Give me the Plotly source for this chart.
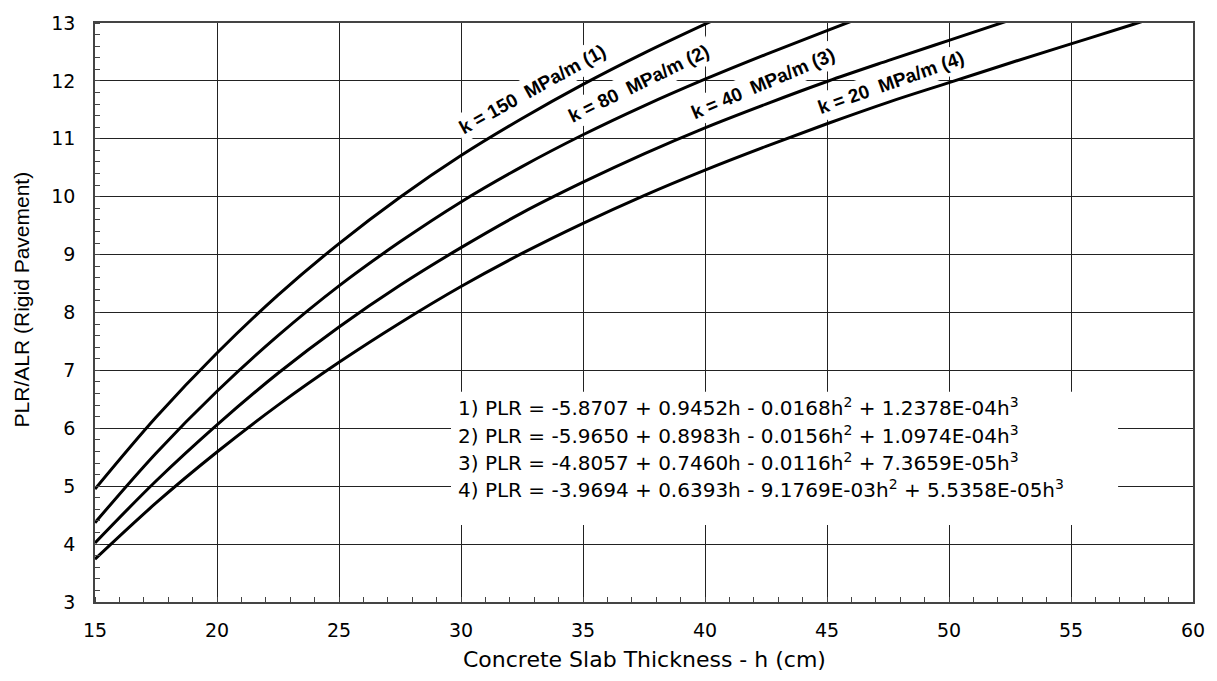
import plotly.graph_objects as go

# ---- data ----
h_k150 = [15, 17.5, 20, 22.5, 25, 27.5, 30, 32.5, 35, 37.5, 40, 42.5]
plr_k150 = [4.95, 6.19, 7.30, 8.30, 9.19, 9.99, 10.71, 11.35, 11.94, 12.48, 12.98, 13.46]

h_k80 = [15, 17.5, 20, 22.5, 25, 27.5, 30, 32.5, 35, 37.5, 40, 42.5, 45, 47.5]
plr_k80 = [4.37, 5.57, 6.64, 7.60, 8.46, 9.22, 9.91, 10.52, 11.07, 11.57, 12.03, 12.46, 12.87, 13.27]

h_k40 = [15, 17.5, 20, 22.5, 25, 27.5, 30, 32.5, 35, 37.5, 40, 42.5, 45, 47.5, 50, 52.5]
plr_k40 = [4.02, 5.09, 6.06, 6.95, 7.75, 8.47, 9.12, 9.72, 10.25, 10.74, 11.19, 11.60, 11.99, 12.35, 12.70, 13.05]

h_k20 = [15, 17.5, 20, 22.5, 25, 27.5, 30, 32.5, 35, 37.5, 40, 42.5, 45, 47.5, 50, 52.5, 55, 57.5, 60]
plr_k20 = [3.74, 4.71, 5.59, 6.40, 7.14, 7.82, 8.45, 9.02, 9.54, 10.02, 10.46, 10.87, 11.26, 11.63, 11.97, 12.31, 12.64, 12.97, 13.31]

curve_labels = ["k = 150\u00a0 MPa/m (1)", "k = 80\u00a0 MPa/m (2)",
                "k = 40\u00a0 MPa/m (3)", "k = 20\u00a0 MPa/m (4)"]

equations = [
    "1) PLR = -5.8707 + 0.9452h - 0.0168h<sup>2</sup> + 1.2378E-04h<sup>3</sup>",
    "2) PLR = -5.9650 + 0.8983h - 0.0156h<sup>2</sup> + 1.0974E-04h<sup>3</sup>",
    "3) PLR = -4.8057 + 0.7460h - 0.0116h<sup>2</sup> + 7.3659E-05h<sup>3</sup>",
    "4) PLR = -3.9694 + 0.6393h - 9.1769E-03h<sup>2</sup> + 5.5358E-05h<sup>3</sup>",
]

x_ticks = [15, 20, 25, 30, 35, 40, 45, 50, 55, 60]
y_ticks = [3, 4, 5, 6, 7, 8, 9, 10, 11, 12, 13]

x_title = "Concrete Slab Thickness - h (cm)"
y_title = "PLR/ALR (Rigid Pavement)"

# ---- figure ----
fig = go.Figure()
for hx, py in [(h_k150, plr_k150), (h_k80, plr_k80), (h_k40, plr_k40), (h_k20, plr_k20)]:
    fig.add_trace(go.Scatter(x=hx, y=py, mode="lines",
                             line=dict(color="black", width=3, shape="spline"),
                             showlegend=False, hoverinfo="skip"))

# white panel behind the equations (interrupts the grid)
fig.add_shape(type="rect", xref="x", yref="y", x0=29.59, x1=56.93, y0=4.33, y1=6.63,
              fillcolor="white", line=dict(width=0), layer="above")

eq_y = [6.36, 5.89, 5.41, 4.95]
for txt, yy in zip(equations, eq_y):
    fig.add_annotation(x=29.8, y=yy, xref="x", yref="y", text=txt, showarrow=False,
                       xanchor="left", yanchor="middle",
                       font=dict(family="DejaVu Sans", size=20, color="black"))

label_pos = [(32.9, 11.86, -29), (37.28, 11.95, -26), (42.38, 11.96, -23), (47.62, 11.98, -19.5)]
for txt, (lx, ly, ang) in zip(curve_labels, label_pos):
    fig.add_annotation(x=lx, y=ly, xref="x", yref="y", text="<b>" + txt + "</b>",
                       showarrow=False, textangle=ang, bgcolor="white", borderpad=3,
                       font=dict(family="Liberation Sans, Arial", size=19, color="black"))

# axis titles
fig.add_annotation(x=0.5, y=-0.0985, xref="paper", yref="paper", text=x_title,
                   showarrow=False, xanchor="center", yanchor="middle",
                   font=dict(family="DejaVu Sans", size=22, color="black"))
fig.add_annotation(x=-0.0672, y=0.523, xref="paper", yref="paper", text=y_title,
                   showarrow=False, xanchor="center", yanchor="middle", textangle=-90,
                   font=dict(family="Liberation Sans, Arial", size=21, color="black"))

axis_common = dict(showgrid=True, gridcolor="#222222", gridwidth=1.1,
                   showline=True, linecolor="#444444", linewidth=1.5, mirror=True,
                   ticks="", zeroline=False,
                   tickfont=dict(family="DejaVu Sans", size=19, color="black"))

fig.update_xaxes(range=[15, 60], tickvals=x_ticks, ticktext=[str(v) for v in x_ticks],
                 ticklabelstandoff=10,
                 minor=dict(dtick=1, ticks="inside", ticklen=5, tickcolor="#444444", showgrid=False),
                 **axis_common)
fig.update_yaxes(range=[3, 13], tickvals=y_ticks, ticktext=[str(v) for v in y_ticks],
                 ticklabelstandoff=14,
                 minor=dict(dtick=0.2, ticks="inside", ticklen=5, tickcolor="#444444", showgrid=False),
                 **axis_common)

fig.update_layout(width=1217, height=681, margin=dict(l=95, r=21, t=15, b=79),
                  paper_bgcolor="white", plot_bgcolor="white", showlegend=False)

fig.write_html("out.html")
